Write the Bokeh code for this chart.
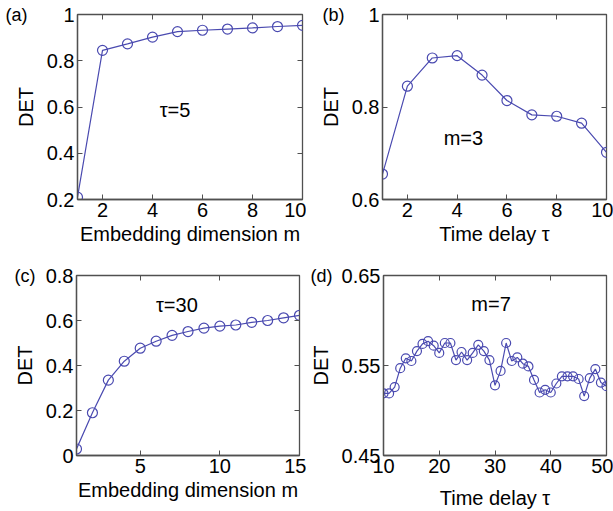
from bokeh.plotting import figure
from bokeh.layouts import column, row
from bokeh.models import FixedTicker, CustomJSTickFormatter, Label, LinearAxis, Range1d
from bokeh.embed import file_html
from bokeh.resources import INLINE

# ---- data ----
m_a = list(range(1, 11))
det_a = [0.21, 0.845, 0.873, 0.902, 0.926, 0.932, 0.937, 0.942, 0.948, 0.953]

tau_b = list(range(1, 11))
det_b = [0.655, 0.845, 0.906, 0.911, 0.869, 0.814, 0.783, 0.780, 0.765, 0.702]

m_c = list(range(1, 16))
det_c = [0.029, 0.19, 0.335, 0.419, 0.477, 0.508, 0.534, 0.551, 0.566, 0.575,
         0.58, 0.592, 0.60, 0.612, 0.623]

tau_d = list(range(10, 51))
det_d = [0.519, 0.519, 0.526, 0.547, 0.558, 0.555, 0.566, 0.574, 0.577, 0.572,
         0.564, 0.575, 0.575, 0.556, 0.565, 0.556, 0.564, 0.573, 0.566, 0.556,
         0.528, 0.544, 0.575, 0.555, 0.559, 0.552, 0.549, 0.534, 0.520, 0.523,
         0.520, 0.530, 0.538, 0.538, 0.538, 0.535, 0.516, 0.536, 0.546, 0.531,
         0.527]

xticks_a = [2, 4, 6, 8, 10]
yticks_a = [0.2, 0.4, 0.6, 0.8, 1.0]
xticks_b = [2, 4, 6, 8, 10]
yticks_b = [0.6, 0.8, 1.0]
xticks_c = [5, 10, 15]
yticks_c = [0, 0.2, 0.4, 0.6, 0.8]
xticks_d = [10, 20, 30, 40, 50]
yticks_d = [0.45, 0.55, 0.65]

FONT = "Liberation Sans"
LINE = "#4a4ab0"
FRAME = "#505050"

fmt_code = "return String(Math.round(tick*100)/100);"


def style_axis(ax, ticks, show_labels=True):
    ax.ticker = FixedTicker(ticks=ticks)
    ax.major_tick_in = 5
    ax.major_tick_out = 0
    ax.minor_tick_line_color = None
    ax.major_tick_line_color = FRAME
    ax.axis_line_color = FRAME
    ax.axis_line_width = 1.3
    ax.major_label_text_font = FONT
    ax.major_label_text_color = "black"
    ax.axis_label_text_font = FONT
    ax.axis_label_text_font_style = "normal"
    ax.axis_label_text_color = "black"
    if show_labels:
        ax.formatter = CustomJSTickFormatter(code=fmt_code)
    else:
        ax.formatter = CustomJSTickFormatter(code="return '';")
        ax.major_label_text_font_size = "1px"
        ax.major_label_text_color = None
        ax.major_label_standoff = 0
        ax.axis_line_color = None


def panel(w, h, bl, br, bt, bb, xr, yr, xt, yt, xlab, xs, ys,
          ann, ann_xy, plab, plab_standoff, xlab_standoff=3, msize=10):
    p = figure(width=w, height=h, output_backend="svg", toolbar_location=None,
               x_range=Range1d(*xr), y_range=Range1d(*yr),
               min_border_left=bl, min_border_right=br,
               min_border_top=bt, min_border_bottom=bb)
    p.grid.visible = False
    p.outline_line_color = FRAME
    p.outline_line_width = 1.3
    p.background_fill_color = "white"
    p.border_fill_color = "white"

    style_axis(p.xaxis[0], xt)
    style_axis(p.yaxis[0], yt)
    p.xaxis[0].major_label_text_font_size = "20px"
    p.yaxis[0].major_label_text_font_size = "20px"
    p.xaxis[0].major_label_standoff = 3
    p.yaxis[0].major_label_standoff = 3
    p.xaxis[0].axis_label = xlab
    p.yaxis[0].axis_label = "DET"
    p.xaxis[0].axis_label_text_font_size = "20px"
    p.yaxis[0].axis_label_text_font_size = "20px"
    p.xaxis[0].axis_label_standoff = xlab_standoff
    p.yaxis[0].axis_label_standoff = 7

    top = LinearAxis()
    style_axis(top, xt, show_labels=False)
    p.add_layout(top, "above")
    right = LinearAxis()
    style_axis(right, yt, show_labels=False)
    p.add_layout(right, "right")

    # panel tag, drawn as the single label of an outer left axis at the top value
    tag = LinearAxis()
    tag.ticker = FixedTicker(ticks=[yr[1]])
    tag.formatter = CustomJSTickFormatter(code="return '%s';" % plab)
    tag.major_tick_line_color = None
    tag.minor_tick_line_color = None
    tag.axis_line_color = None
    tag.major_tick_in = 0
    tag.major_tick_out = 0
    tag.major_label_standoff = plab_standoff
    tag.major_label_text_font = FONT
    tag.major_label_text_font_size = "18px"
    tag.major_label_text_color = "black"
    p.add_layout(tag, "left")

    p.line(xs, ys, line_color=LINE, line_width=1.2)
    p.scatter(xs, ys, marker="circle", size=msize, fill_color=None,
              line_color=LINE, line_width=1.2)

    p.add_layout(Label(x=ann_xy[0], y=ann_xy[1], text=ann, text_font=FONT,
                       text_font_size="20px", text_align="center",
                       text_baseline="middle", text_color="black"))
    return p


pa = panel(306, 250, 77, 4, 14, 51, (1, 10), (0.2, 1.0), xticks_a, yticks_a,
           "Embedding dimension m", m_a, det_a, "\u03c4=5", (4.9, 0.585),
           "(a)", -16)
pb = panel(307, 250, 76, 7, 14, 51, (1, 10), (0.6, 1.0), xticks_b, yticks_b,
           "Time delay \u03c4", tau_b, det_b, "m=3", (4.25, 0.732),
           "(b)", -28)
pc = panel(306, 261, 76, 7, 25, 53, (1, 15), (0, 0.8), xticks_c, yticks_c,
           "Embedding dimension m", m_c, det_c, "\u03c4=30", (7.3, 0.669),
           "(c)", -25)
pd = panel(307, 261, 76, 7, 24, 54, (10, 50), (0.45, 0.65), xticks_d, yticks_d,
           "Time delay \u03c4", tau_d, det_d, "m=7", (29.3, 0.618),
           "(d)", -26, xlab_standoff=11, msize=9)

layout = column(row(pa, pb), row(pc, pd))

open("out.html", "w").write(file_html(layout, INLINE))
